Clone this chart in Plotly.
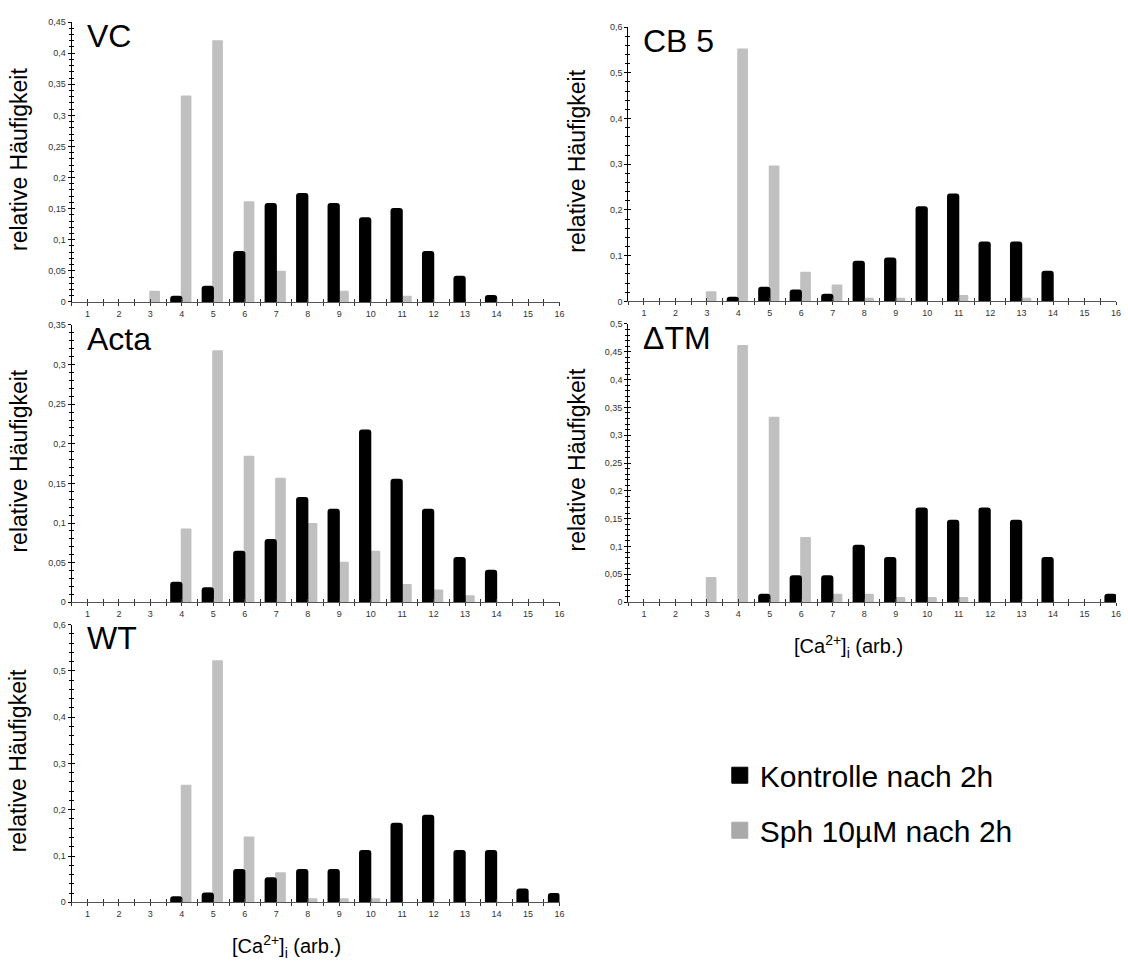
import plotly.graph_objects as go

W, H = 1128, 967
FONT = "Arial, Liberation Sans, sans-serif"

categories = list(range(1, 17))
x_ticklabels = [str(c) for c in categories]

series_names = ["Kontrolle nach 2h", "Sph 10µM nach 2h"]

vc_kontrolle = [0, 0, 0, 0.010, 0.026, 0.082, 0.159, 0.175, 0.159, 0.136, 0.151, 0.082, 0.042, 0.011, 0, 0]
vc_sph = [0, 0, 0.018, 0.332, 0.421, 0.162, 0.050, 0, 0.018, 0, 0.010, 0, 0, 0, 0, 0]

cb5_kontrolle = [0, 0, 0, 0.010, 0.032, 0.026, 0.017, 0.089, 0.096, 0.208, 0.236, 0.131, 0.131, 0.067, 0, 0]
cb5_sph = [0, 0, 0.022, 0.553, 0.297, 0.065, 0.037, 0.008, 0.008, 0, 0.014, 0, 0.008, 0, 0, 0]

acta_kontrolle = [0, 0, 0, 0.026, 0.019, 0.065, 0.080, 0.133, 0.118, 0.218, 0.156, 0.118, 0.057, 0.041, 0, 0]
acta_sph = [0, 0, 0, 0.093, 0.318, 0.185, 0.157, 0.100, 0.051, 0.065, 0.023, 0.016, 0.009, 0, 0, 0]

dtm_kontrolle = [0, 0, 0, 0, 0.015, 0.048, 0.048, 0.103, 0.081, 0.170, 0.148, 0.170, 0.148, 0.081, 0, 0.015]
dtm_sph = [0, 0, 0.045, 0.462, 0.333, 0.117, 0.015, 0.015, 0.009, 0.009, 0.009, 0, 0, 0, 0, 0]

wt_kontrolle = [0, 0, 0, 0.013, 0.021, 0.072, 0.054, 0.072, 0.072, 0.113, 0.172, 0.189, 0.113, 0.113, 0.030, 0.020]
wt_sph = [0, 0, 0, 0.254, 0.523, 0.142, 0.065, 0.009, 0.009, 0.009, 0, 0, 0, 0, 0, 0]

panel_labels = ["VC", "CB 5", "Acta", "ΔTM", "WT"]
y_max = [0.45, 0.6, 0.35, 0.5, 0.6]
y_step = [0.05, 0.1, 0.05, 0.05, 0.1]
y_title = "relative Häufigkeit"
x_title = "[Ca<sup>2+</sup>]<sub>i</sub> (arb.)"

kontrolle = [vc_kontrolle, cb5_kontrolle, acta_kontrolle, dtm_kontrolle, wt_kontrolle]
sph = [vc_sph, cb5_sph, acta_sph, dtm_sph, wt_sph]

# layout in pixels: (x0, x1, ytop, ybottom)
boxes = [
    (72, 562, 17.3, 300.0),
    (631, 1121, 22.3, 299.5),
    (72, 562, 323.3, 603.5),
    (631, 1121, 322.3, 603.3),
    (72, 562, 626.0, 906.7),
]
show_xtitle = [False, False, False, True, True]
xtitle_frac = [0.44, 0.44, 0.44, 0.452, 0.44]

BLACK = "#000000"
GRAY = "#c0c0c0"

fig = go.Figure()
layout = dict(
    width=W, height=H,
    margin=dict(l=0, r=0, t=0, b=0),
    paper_bgcolor="white", plot_bgcolor="white",
    barmode="overlay",
    showlegend=True,
    font=dict(family=FONT, color="#000"),
)
annotations = []

def fmt(v):
    s = f"{v:.2f}".rstrip("0").rstrip(".")
    return s.replace(".", ",")

for i in range(5):
    n = i + 1
    ov = i + 6
    xa = "x" if n == 1 else f"x{n}"
    ya = "y" if n == 1 else f"y{n}"
    xo = f"x{ov}"
    yo = f"y{ov}"
    x0, x1, yt, yb = boxes[i]
    xd = [x0 / W, x1 / W]
    yd = [1 - yb / H, 1 - yt / H]

    fig.add_trace(go.Bar(
        x=categories, y=sph[i], name=series_names[1],
        marker=dict(color=GRAY, cornerradius=1, line=dict(width=0)),
        width=0.34, offset=-0.035,
        xaxis=xa, yaxis=ya, showlegend=False,
    ))
    fig.add_trace(go.Bar(
        x=categories, y=kontrolle[i], name=series_names[0],
        marker=dict(color=BLACK, cornerradius=3, line=dict(width=0)),
        width=0.39, offset=-0.37,
        xaxis=xa, yaxis=ya, showlegend=False,
    ))
    # empty traces to activate overlay axes (inner half of crossing ticks)
    fig.add_trace(go.Scatter(x=[None], y=[None], xaxis=xa, yaxis=yo,
                             showlegend=False, hoverinfo="skip"))
    fig.add_trace(go.Scatter(x=[None], y=[None], xaxis=xo, yaxis=ya,
                             showlegend=False, hoverinfo="skip"))

    nt = int(round(y_max[i] / y_step[i]))
    tv = [round(k * y_step[i], 4) for k in range(nt + 1)]
    tt = [fmt(v) for v in tv]

    xrange = [0.5, 16.0]
    yrange = [0, y_max[i]]

    layout["xaxis" if n == 1 else f"xaxis{n}"] = dict(
        domain=xd, anchor=ya, range=xrange, fixedrange=True,
        showline=True, linecolor="#555", linewidth=1,
        tickmode="array", tickvals=categories, ticktext=x_ticklabels,
        ticks="outside", ticklen=3, tickwidth=1, tickcolor="#333",
        minor=dict(tickmode="linear", tick0=0.5, dtick=1, ticks="outside",
                   ticklen=3, tickwidth=1, tickcolor="#333"),
        tickfont=dict(size=9, color="#333", family=FONT),
        showgrid=False, zeroline=False,
    )
    layout["yaxis" if n == 1 else f"yaxis{n}"] = dict(
        domain=yd, anchor=xa, range=yrange, fixedrange=True,
        showline=True, linecolor="#000", linewidth=1,
        tickmode="array", tickvals=tv, ticktext=tt,
        ticks="outside", ticklen=3, tickwidth=1, tickcolor="#000",
        minor=dict(tickmode="linear", tick0=0, dtick=y_step[i] / 5,
                   ticks="outside", ticklen=2, tickwidth=1, tickcolor="#000"),
        tickfont=dict(size=9, color="#333", family=FONT),
        showgrid=False, zeroline=False,
    )
    layout[f"xaxis{ov}"] = dict(
        overlaying=xa, anchor=ya, range=xrange, fixedrange=True,
        showline=False, showticklabels=False,
        tickmode="array", tickvals=categories,
        ticks="inside", ticklen=3, tickwidth=1, tickcolor="#333",
        minor=dict(tickmode="linear", tick0=0.5, dtick=1, ticks="inside",
                   ticklen=3, tickwidth=1, tickcolor="#333"),
        showgrid=False, zeroline=False,
    )
    layout[f"yaxis{ov}"] = dict(
        overlaying=ya, anchor=xa, side="left", range=yrange, fixedrange=True,
        showline=False, showticklabels=False,
        tickmode="array", tickvals=tv,
        ticks="inside", ticklen=3, tickwidth=1, tickcolor="#000",
        minor=dict(tickmode="linear", tick0=0, dtick=y_step[i] / 5,
                   ticks="inside", ticklen=2, tickwidth=1, tickcolor="#000"),
        showgrid=False, zeroline=False,
    )

    # panel label
    annotations.append(dict(
        text=panel_labels[i], xref="paper", yref="paper",
        x=(x0 + 13) / W, y=1 - (yt + 14) / H, xanchor="left", yanchor="middle",
        showarrow=False, font=dict(size=32, family=FONT, color="#000"),
    ))
    # y axis title
    tx = 19 if x0 < 300 else 580
    annotations.append(dict(
        text=y_title, xref="paper", yref="paper",
        x=tx / W, y=1 - ((yt + yb) / 2 - 3) / H, xanchor="center", yanchor="middle",
        textangle=-90, showarrow=False,
        font=dict(size=23, family=FONT, color="#000"),
    ))
    # x axis title
    if show_xtitle[i]:
        annotations.append(dict(
            text=x_title, xref="paper", yref="paper",
            x=(x0 + xtitle_frac[i] * (x1 - x0)) / W, y=1 - (yb + 45) / H,
            xanchor="center", yanchor="middle", showarrow=False,
            font=dict(size=20, family=FONT, color="#000"),
        ))

# legend entries
fig.add_trace(go.Scatter(
    x=[None], y=[None], mode="markers", name=series_names[0],
    marker=dict(symbol="square", size=16, color=BLACK, line=dict(width=1, color=BLACK)),
    legendgroup="k", xaxis="x5", yaxis="y5",
))
fig.add_trace(go.Scatter(
    x=[None], y=[None], mode="markers", name=series_names[1],
    marker=dict(symbol="square", size=16, color="#aaaaaa", line=dict(width=1, color="#aaaaaa")),
    legendgroup="s", xaxis="x5", yaxis="y5",
))

layout["legend"] = dict(
    x=723 / W, y=1 - 752 / H, xanchor="left", yanchor="top",
    font=dict(size=30, family=FONT, color="#000"),
    itemsizing="trace", tracegroupgap=13, bgcolor="rgba(0,0,0,0)",
    traceorder="grouped",
)
layout["annotations"] = annotations
fig.update_layout(**layout)

fig.write_html("out.html")
